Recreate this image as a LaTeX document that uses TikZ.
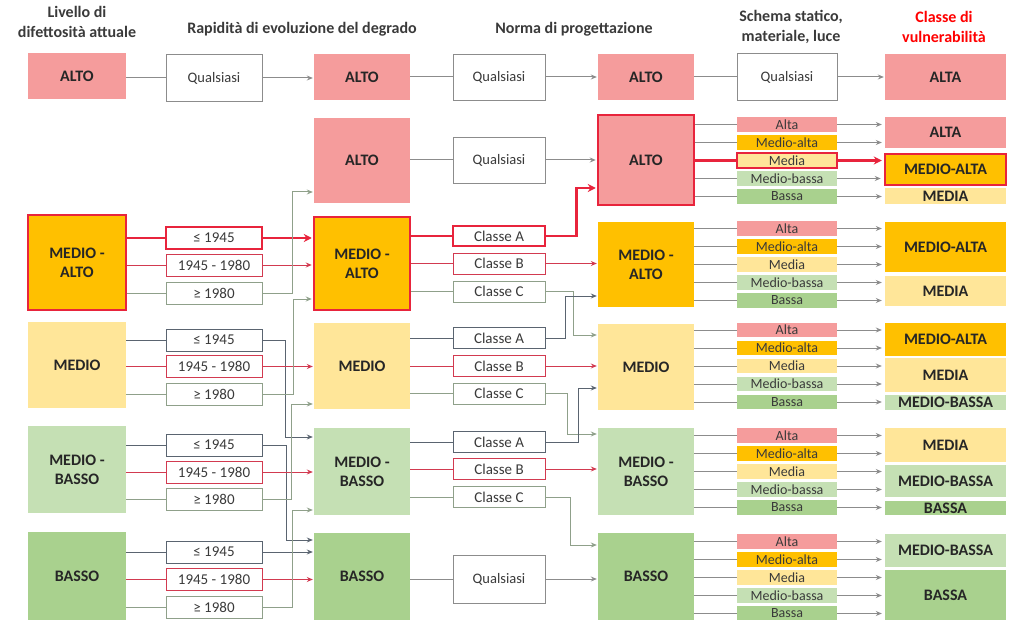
\documentclass[tikz,border=0pt]{standalone}
\usepackage{fontspec}
\setmainfont{Carlito}
\usetikzlibrary{arrows.meta}
\definecolor{pk}{HTML}{F59C9C}
\definecolor{og}{HTML}{FFC000}
\definecolor{ly}{HTML}{FFE699}
\definecolor{lg}{HTML}{C5E0B4}
\definecolor{gr}{HTML}{A9D18E}
\definecolor{dk}{HTML}{5A6470}
\definecolor{rd}{HTML}{D23A50}
\definecolor{gg}{HTML}{8FA08A}
\definecolor{gy}{HTML}{8C8C8C}
\definecolor{hl}{HTML}{E8243C}
\definecolor{tx}{HTML}{262626}
\definecolor{hd}{HTML}{3A3A3A}
\begin{document}
\begin{tikzpicture}[x=1pt,y=-1pt,
  big/.style={inner sep=0pt, font=\fontsize{16}{19}\selectfont\bfseries, text=tx, align=center},
  lvl/.style={big, minimum width=98pt},
  mid/.style={big, minimum width=96pt},
  cls/.style={big, minimum width=121pt},
  sub/.style={draw, fill=white, inner sep=0pt, line width=0.9pt, minimum width=96pt, minimum height=22pt, font=\fontsize{15}{17}\selectfont, text=hd},
  nrm/.style={sub, minimum width=92pt, minimum height=21pt},
  qual/.style={draw=gy, fill=white, inner sep=0pt, line width=0.9pt, font=\fontsize{14.5}{17}\selectfont, text=hd},
  bar/.style={inner sep=0pt, minimum width=100pt, minimum height=14.5pt, font=\fontsize{14}{15}\selectfont, text=hd},
  hlbox/.style={draw=hl, line width=2.5pt},
  head/.style={font=\fontsize{16}{20.5}\selectfont\bfseries, text=hd, align=center},
  ln/.style={line width=1pt},
  arr/.style={line width=1pt, -{Stealth[length=6pt,width=5pt]}, shorten >=1pt},
  harr/.style={line width=2.5pt, draw=hl, -{Stealth[length=8pt,width=8pt]}, shorten >=1pt},
  hln/.style={line width=2.5pt, draw=hl}
]
\useasboundingbox (0,0) rectangle (1011,620);

% headers
\node[head] (H1) at (77,22) {Livello di\\difettosità attuale};
\node[head] (H2) at (302,29) {Rapidità di evoluzione del degrado};
\node[head] (H3) at (574,29) {Norma di progettazione};
\node[head] (H4) at (791,27) {Schema statico,\\materiale, luce};
\node[head, text=red] (H5) at (944,27) {Classe di\\vulnerabilità};

% column 1
\node[lvl, fill=pk, minimum height=46pt] (L1) at (77,76) {ALTO};
\node[lvl, fill=og, minimum height=95pt, hlbox] (L2) at (77,262.5) {MEDIO -\\ALTO};
\node[lvl, fill=ly, minimum height=86pt] (L3) at (77,365) {MEDIO};
\node[lvl, fill=lg, minimum height=87pt] (L4) at (77,469.5) {MEDIO -\\BASSO};
\node[lvl, fill=gr, minimum height=88pt] (L5) at (77,576) {BASSO};

% column 2
\node[qual, minimum width=96pt, minimum height=47pt] (R1) at (214,78) {Qualsiasi};
\node[sub, hlbox] (R2a) at (214,238) {≤ 1945};
\node[sub, draw=rd] (R2b) at (214,265) {1945 - 1980};
\node[sub, draw=gg] (R2c) at (214,293) {≥ 1980};
\node[sub, draw=dk] (R3a) at (214,340) {≤ 1945};
\node[sub, draw=rd] (R3b) at (214,366.5) {1945 - 1980};
\node[sub, draw=gg] (R3c) at (214,394.5) {≥ 1980};
\node[sub, draw=dk] (R4a) at (214,445) {≤ 1945};
\node[sub, draw=rd] (R4b) at (214,472) {1945 - 1980};
\node[sub, draw=gg] (R4c) at (214,499) {≥ 1980};
\node[sub, draw=dk] (R5a) at (214,552) {≤ 1945};
\node[sub, draw=rd] (R5b) at (214,579.5) {1945 - 1980};
\node[sub, draw=gg] (R5c) at (214,607.5) {≥ 1980};

% column 3
\node[mid, fill=pk, minimum height=46pt] (A1) at (362,77) {ALTO};
\node[mid, fill=pk, minimum height=85pt] (A2) at (362,160.5) {ALTO};
\node[mid, fill=og, minimum height=93pt, hlbox] (A3) at (362,263.5) {MEDIO -\\ALTO};
\node[mid, fill=ly, minimum height=86pt] (A4) at (362,366) {MEDIO};
\node[mid, fill=lg, minimum height=87pt] (A5) at (362,471.5) {MEDIO -\\BASSO};
\node[mid, fill=gr, minimum height=87pt] (A6) at (362,576.5) {BASSO};

% column 4
\node[qual, minimum width=92pt, minimum height=46pt] (N1) at (499,77) {Qualsiasi};
\node[qual, minimum width=92pt, minimum height=46pt] (N2) at (499,160) {Qualsiasi};
\node[nrm, hlbox, minimum height=20pt] (N3a) at (499,236) {Classe A};
\node[nrm, draw=rd] (N3b) at (499,263.5) {Classe B};
\node[nrm, draw=gg] (N3c) at (499,291.5) {Classe C};
\node[nrm, draw=dk] (N4a) at (499,338) {Classe A};
\node[nrm, draw=rd] (N4b) at (499,366) {Classe B};
\node[nrm, draw=gg] (N4c) at (499,393.5) {Classe C};
\node[nrm, draw=dk] (N5a) at (499,442) {Classe A};
\node[nrm, draw=rd] (N5b) at (499,469) {Classe B};
\node[nrm, draw=gg] (N5c) at (499,497) {Classe C};
\node[qual, minimum width=92pt, minimum height=48pt] (N6) at (499,579) {Qualsiasi};

% column 5
\node[mid, fill=pk, minimum height=46pt] (B1) at (646,77) {ALTO};
\node[mid, fill=pk, minimum height=90pt, hlbox] (B2) at (646,160) {ALTO};
\node[mid, fill=og, minimum height=85pt] (B3) at (646,264.5) {MEDIO -\\ALTO};
\node[mid, fill=ly, minimum height=86pt] (B4) at (646,367) {MEDIO};
\node[mid, fill=lg, minimum height=87pt] (B5) at (646,471.5) {MEDIO -\\BASSO};
\node[mid, fill=gr, minimum height=87pt] (B6) at (646,576.5) {BASSO};

% column 6
\node[qual, minimum width=100pt, minimum height=47pt] (S0) at (787,77) {Qualsiasi};
\foreach \g/\c in {2/160.5,3/264.5,4/366,5/471.5,6/577.5}{
  \foreach \i/\t/\f in {1/Alta/pk,2/Medio-alta/og,3/Media/ly,4/Medio-bassa/lg,5/Bassa/gr}{
    \node[bar, fill=\f] (S\g-\i) at (787,\c+18*\i-54) {\t};
    \draw[ln, gy] (B\g.east |- S\g-\i.west) -- (S\g-\i.west);
  }
}
\draw[hl, line width=2.2pt] (S2-3.south west) rectangle (S2-3.north east);

% column 7
\node[cls, fill=pk, minimum height=46pt] (C0) at (945.5,77) {ALTA};
\node[cls, fill=pk, minimum height=31pt] (C2a) at (945.5,132.5) {ALTA};
\node[cls, fill=og, minimum height=31pt, hlbox] (C2b) at (945.5,169.5) {MEDIO-ALTA};
\node[cls, fill=ly, minimum height=16pt] (C2c) at (945.5,196) {MEDIA};
\node[cls, fill=og, minimum height=50pt] (C3a) at (945.5,247) {MEDIO-ALTA};
\node[cls, fill=ly, minimum height=30pt] (C3b) at (945.5,291) {MEDIA};
\node[cls, fill=og, minimum height=33pt] (C4a) at (945.5,339.5) {MEDIO-ALTA};
\node[cls, fill=ly, minimum height=34pt] (C4b) at (945.5,375) {MEDIA};
\node[cls, fill=lg, minimum height=15pt] (C4c) at (945.5,402.5) {MEDIO-BASSA};
\node[cls, fill=ly, minimum height=34pt] (C5a) at (945.5,445) {MEDIA};
\node[cls, fill=lg, minimum height=32pt] (C5b) at (945.5,481) {MEDIO-BASSA};
\node[cls, fill=gr, minimum height=14pt] (C5c) at (945.5,508) {BASSA};
\node[cls, fill=lg, minimum height=33pt] (C6a) at (945.5,550.5) {MEDIO-BASSA};
\node[cls, fill=gr, minimum height=50pt] (C6b) at (945.5,595) {BASSA};

% col 1 -> col 2
\draw[ln, gy] (L1.east |- R1.west) -- (R1.west);
\draw[hln] (L2.east |- R2a.west) -- (R2a.west);
\foreach \g in {2,3,4,5}{
  \draw[ln, rd] (L\g.east |- R\g b.west) -- (R\g b.west);
  \draw[ln, gg] (L\g.east |- R\g c.west) -- (R\g c.west);
}
\foreach \g in {3,4,5}{
  \draw[ln, dk] (L\g.east |- R\g a.west) -- (R\g a.west);
}

% col 2 -> col 3
\draw[arr, gy] (R1.east) -- (A1.west |- R1.east);
\draw[harr] (R2a.east) -- (A3.west |- R2a.east);
\draw[arr, rd] (R2b.east) -- (A3.west |- R2b.east);
\draw[arr, gg] (R2c.east) -- ++(30,0) |- ([yshift=-31.5pt]A2.west);
\draw[arr, dk] (R3a.east) -- ++(23,0) |- ([yshift=34.5pt]A5.west);
\draw[arr, rd] (R3b.east) -- (A4.west |- R3b.east);
\draw[arr, gg] (R3c.east) -- ++(31,0) |- ([yshift=-35.5pt]A3.west);
\draw[arr, dk] (R4a.east) -- ++(24,0) |- ([yshift=36.5pt]A6.west);
\draw[arr, rd] (R4b.east) -- (A5.west |- R4b.east);
\draw[arr, gg] (R4c.east) -- ++(29,0) |- ([yshift=-38pt]A4.west);
\draw[arr, dk] (R5a.east) -- (A6.west |- R5a.east);
\draw[arr, rd] (R5b.east) -- (A6.west |- R5b.east);
\draw[arr, gg] (R5c.east) -- ++(30,0) |- ([yshift=-38.5pt]A5.west);

% col 3 -> col 4
\draw[ln, gy] (A1.east |- N1.west) -- (N1.west);
\draw[ln, gy] (A2.east |- N2.west) -- (N2.west);
\draw[hln] (A3.east |- N3a.west) -- (N3a.west);
\draw[ln, gy] (A6.east |- N6.west) -- (N6.west);
\foreach \g/\s in {3/3,4/4,5/5}{
  \draw[ln, rd] (A\g.east |- N\s b.west) -- (N\s b.west);
  \draw[ln, gg] (A\g.east |- N\s c.west) -- (N\s c.west);
}
\draw[ln, dk] (A4.east |- N4a.west) -- (N4a.west);
\draw[ln, dk] (A5.east |- N5a.west) -- (N5a.west);

% col 4 -> col 5
\draw[arr, gy] (N1.east) -- (B1.west |- N1.east);
\draw[arr, gy] (N2.east) -- (B2.west |- N2.east);
\draw[harr] (N3a.east) -- ++(30,0) |- ([yshift=-28pt]B2.west);
\draw[arr, rd] (N3b.east) -- (B3.west |- N3b.east);
\draw[arr, gg] (N3c.east) -- ++(28,0) |- ([yshift=32pt]B4.west);
\draw[arr, dk] (N4a.east) -- ++(20,0) |- ([yshift=-31.5pt]B3.west);
\draw[arr, rd] (N4b.east) -- (B4.west |- N4b.east);
\draw[arr, gg] (N4c.east) -- ++(22,0) |- ([yshift=37.5pt]B5.west);
\draw[arr, dk] (N5a.east) -- ++(33,0) |- ([yshift=-21pt]B4.west);
\draw[arr, rd] (N5b.east) -- (B5.west |- N5b.east);
\draw[arr, gg] (N5c.east) -- ++(25,0) |- ([yshift=31.5pt]B6.west);
\draw[arr, gy] (N6.east) -- (B6.west |- N6.east);

% col 5 -> col 6 -> col 7
\draw[ln, gy] (B1.east |- S0.west) -- (S0.west);
\draw[arr, gy] (S0.east) -- (C0.west |- S0.east);
\draw[hln] (B2.east |- S2-3.west) -- (S2-3.west);
\foreach \s/\c in {2-1/2a,2-2/2a,2-4/2b,2-5/2c,
                   3-1/3a,3-2/3a,3-3/3a,3-4/3b,3-5/3b,
                   4-1/4a,4-2/4a,4-3/4b,4-4/4b,4-5/4c,
                   5-1/5a,5-2/5a,5-3/5b,5-4/5b,5-5/5c,
                   6-1/6a,6-2/6a,6-3/6b,6-4/6b,6-5/6b}{
  \draw[arr, gy, shorten >=3pt] (S\s.east) -- (S\s.east -| C\c.west);
}
\draw[harr, shorten >=2pt] (S2-3.east) -- (S2-3.east -| C2b.west);
\end{tikzpicture}
\end{document}
